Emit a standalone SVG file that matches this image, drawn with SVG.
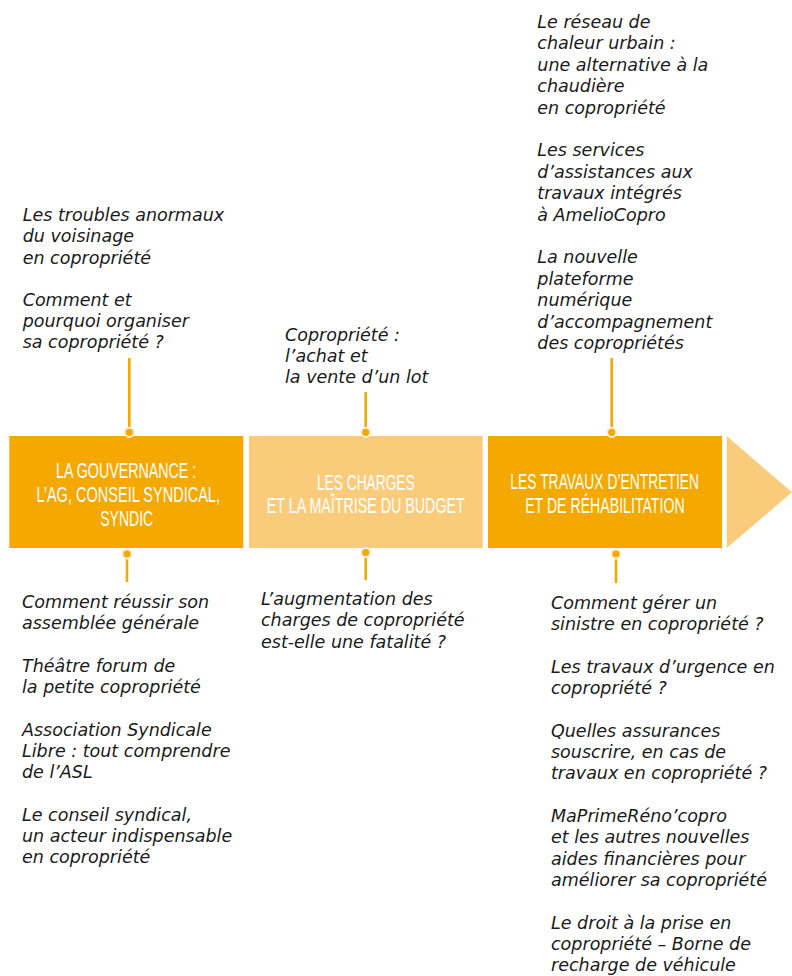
<svg xmlns="http://www.w3.org/2000/svg" width="792" height="976" viewBox="0 0 792 976">
<style>
.bg{fill:#ffffff}
.dark{fill:#F5A800}
.light{fill:#FBCB7C}
.title{font-family:"Liberation Sans",Arial,sans-serif;font-size:21.5px;fill:#ffffff;text-anchor:middle}
.txt{font-family:"DejaVu Sans","Liberation Sans",sans-serif;font-style:italic;font-size:17.5px;fill:#1a1a1a}
.conn{stroke:#F5A800;stroke-width:2.6;fill:none}
.dot{fill:#F5A800;stroke:#FAEFD8;stroke-width:2}
</style>
<rect class="bg" x="0" y="0" width="792" height="976"/>

<g id="connectors">
<line class="conn" x1="129.3" y1="358" x2="129.3" y2="428"/>
<line class="conn" x1="127" y1="558" x2="127" y2="582"/>
<line class="conn" x1="365.7" y1="392" x2="365.7" y2="428"/>
<line class="conn" x1="365.7" y1="556" x2="365.7" y2="580"/>
<line class="conn" x1="611.7" y1="358" x2="611.7" y2="428"/>
<line class="conn" x1="616" y1="558" x2="616" y2="583"/>
</g>

<g id="node-gouvernance">
<rect class="dark" x="9.3" y="436" width="234" height="112"/>
<text class="title" transform="translate(126.2,477.7) scale(0.663,1)">LA GOUVERNANCE :</text>
<text class="title" transform="translate(128.2,501.7) scale(0.676,1)">L’AG, CONSEIL SYNDICAL,</text>
<text class="title" transform="translate(126.7,525.7) scale(0.653,1)">SYNDIC</text>
</g>

<g id="node-charges">
<rect class="light" x="249" y="436" width="233.7" height="112"/>
<text class="title" transform="translate(365.8,490) scale(0.64,1)">LES CHARGES</text>
<text class="title" transform="translate(365.8,512.7) scale(0.664,1)">ET LA MAÎTRISE DU BUDGET</text>
</g>

<g id="node-travaux">
<rect class="dark" x="488" y="436" width="234" height="112"/>
<text class="title" transform="translate(604.7,489.3) scale(0.645,1)">LES TRAVAUX D’ENTRETIEN</text>
<text class="title" transform="translate(604.9,512.7) scale(0.658,1)">ET DE RÉHABILITATION</text>
</g>

<g id="node-arrow">
<polygon class="light" points="726.7,436 792,492.3 726.7,548"/>
</g>

<g id="dots">
<circle class="dot" cx="129.3" cy="432.3" r="4.6"/>
<circle class="dot" cx="127" cy="554" r="4.6"/>
<circle class="dot" cx="365.7" cy="432.3" r="4.6"/>
<circle class="dot" cx="365.7" cy="552.5" r="4.6"/>
<circle class="dot" cx="611.7" cy="432.3" r="4.6"/>
<circle class="dot" cx="616" cy="554" r="4.6"/>
</g>

<g id="text-gouvernance-top" class="txt">
<text x="22.7" y="221.2">Les troubles anormaux</text>
<text x="22.7" y="242.4">du voisinage</text>
<text x="22.7" y="263.6">en copropriété</text>
<text x="22.7" y="306">Comment et</text>
<text x="22.7" y="327.2">pourquoi organiser</text>
<text x="22.7" y="348.4">sa copropriété ?</text>
</g>

<g id="text-gouvernance-bottom" class="txt">
<text x="22" y="607.7">Comment réussir son</text>
<text x="22" y="629">assemblée générale</text>
<text x="22" y="671.6">Théâtre forum de</text>
<text x="22" y="692.9">la petite copropriété</text>
<text x="22" y="735.5">Association Syndicale</text>
<text x="22" y="756.8">Libre : tout comprendre</text>
<text x="22" y="778.1">de l’ASL</text>
<text x="22" y="820.7">Le conseil syndical,</text>
<text x="22" y="842">un acteur indispensable</text>
<text x="22" y="863.3">en copropriété</text>
</g>

<g id="text-charges-top" class="txt">
<text x="285" y="340.5">Copropriété :</text>
<text x="285" y="361.5">l’achat et</text>
<text x="285" y="382.5">la vente d’un lot</text>
</g>

<g id="text-charges-bottom" class="txt">
<text x="261" y="605">L’augmentation des</text>
<text x="261" y="626.3">charges de copropriété</text>
<text x="261" y="647.6">est-elle une fatalité ?</text>
</g>

<g id="text-travaux-top" class="txt">
<text x="537.3" y="28">Le réseau de</text>
<text x="537.3" y="49.4">chaleur urbain :</text>
<text x="537.3" y="70.8">une alternative à la</text>
<text x="537.3" y="92.2">chaudière</text>
<text x="537.3" y="113.6">en copropriété</text>
<text x="537.3" y="156.4">Les services</text>
<text x="537.3" y="177.8">d’assistances aux</text>
<text x="537.3" y="199.2">travaux intégrés</text>
<text x="537.3" y="220.6">à AmelioCopro</text>
<text x="537.3" y="263.4">La nouvelle</text>
<text x="537.3" y="284.8">plateforme</text>
<text x="537.3" y="306.2">numérique</text>
<text x="537.3" y="327.6">d’accompagnement</text>
<text x="537.3" y="349">des copropriétés</text>
</g>

<g id="text-travaux-bottom" class="txt">
<text x="551" y="609">Comment gérer un</text>
<text x="551" y="630.3">sinistre en copropriété ?</text>
<text x="551" y="672.9">Les travaux d’urgence en</text>
<text x="551" y="694.2">copropriété ?</text>
<text x="551" y="736.8">Quelles assurances</text>
<text x="551" y="758.1">souscrire, en cas de</text>
<text x="551" y="779.4">travaux en copropriété ?</text>
<text x="551" y="822">MaPrimeRéno’copro</text>
<text x="551" y="843.3">et les autres nouvelles</text>
<text x="551" y="864.6">aides financières pour</text>
<text x="551" y="885.9">améliorer sa copropriété</text>
<text x="551" y="928.5">Le droit à la prise en</text>
<text x="551" y="949.8">copropriété – Borne de</text>
<text x="551" y="971.1">recharge de véhicule</text>
</g>
</svg>
